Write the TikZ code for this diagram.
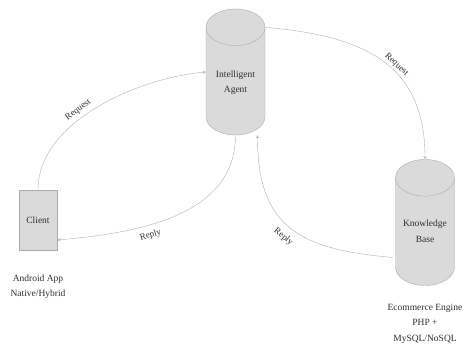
\documentclass[tikz,border=0pt]{standalone}
\usepackage{fontspec}
\setmainfont{Liberation Serif}
\usepackage{tikz}
\usetikzlibrary{positioning}
\usetikzlibrary{shapes.geometric}
\definecolor{boxfill}{HTML}{DADADA}
\definecolor{boxline}{HTML}{ABABAB}
\definecolor{wire}{HTML}{B0B0B0}
\definecolor{ink}{HTML}{2E2E2E}
\tikzset{%
  reqarrow/.style = {-stealth,wire,thin},
  reparrow/.style = {-stealth,wire,thin},
  db/.style = {cylinder,shape border rotate=90,aspect=0.62,draw=boxline,
        fill=boxfill,text width=52pt,inner xsep=3.5pt,
        minimum width=59pt,minimum height=126pt,anchor=shape center},
  r/.style = {rectangle,draw=boxline,fill=boxfill,minimum width=38pt,
        minimum height=60pt,text=ink,font=\fontsize{9.5}{15.5}\selectfont},
  txt/.style = {align=center,text=ink,inner sep=0pt,
        font=\fontsize{9.5}{15.5}\selectfont},
  lbl/.style = {sloped,text=ink,inner sep=2pt,font=\fontsize{9}{10}\selectfont}
}
\begin{document}
\begin{tikzpicture}[x=1pt,y=1pt]
                \useasboundingbox (0,0) rectangle (468,-349);
                \node[db] (agent) at (235.5,-72) {};
                \node[txt] (agenttxt) at ([yshift=-10.5pt]agent.shape center) {Intelligent\\Agent};
                \node[db] (kb) at (425,-222.5) {};
                \node[txt] (kbtxt) at ([yshift=-8.5pt]kb.shape center) {Knowledge\\Base};
                \node[r] (client) at (38,-220) {Client};
                \node[txt] (app) [below=24pt of client] {Android App\\Native/Hybrid};
                \node[txt] (engine) [below=18pt of kb.south] {Ecommerce Engine\\PHP +\\MySQL/NoSQL};

                \coordinate (cin) at ([yshift=-20pt]client.east);
                \coordinate (ain) at ([xshift=-29.5pt]agent.shape center);
                \coordinate (aout) at ([xshift=22pt]agent.south);
                \coordinate (kout) at ([shift={(-32pt,-35pt)}]kb.shape center);

                \draw[reqarrow] (client.north) to[out=90,in=185,looseness=0.85]
                        node[lbl,above=2pt,pos=0.43] {Request} (ain);
                \draw[reqarrow] (agent.after top) to[out=-5,in=90,looseness=1.2]
                        node[lbl,above,pos=0.57] {Request} (kb.north);
                \draw[reparrow] (agent.south) to[out=-90,in=5]
                        node[lbl,below=4pt,pos=0.63] {Reply} (cin);
                \draw[reparrow] (kout) to[out=175,in=-90,looseness=1.3]
                        node[lbl,below=5pt,pos=0.5] {Reply} (aout);
            \end{tikzpicture}
\end{document}
